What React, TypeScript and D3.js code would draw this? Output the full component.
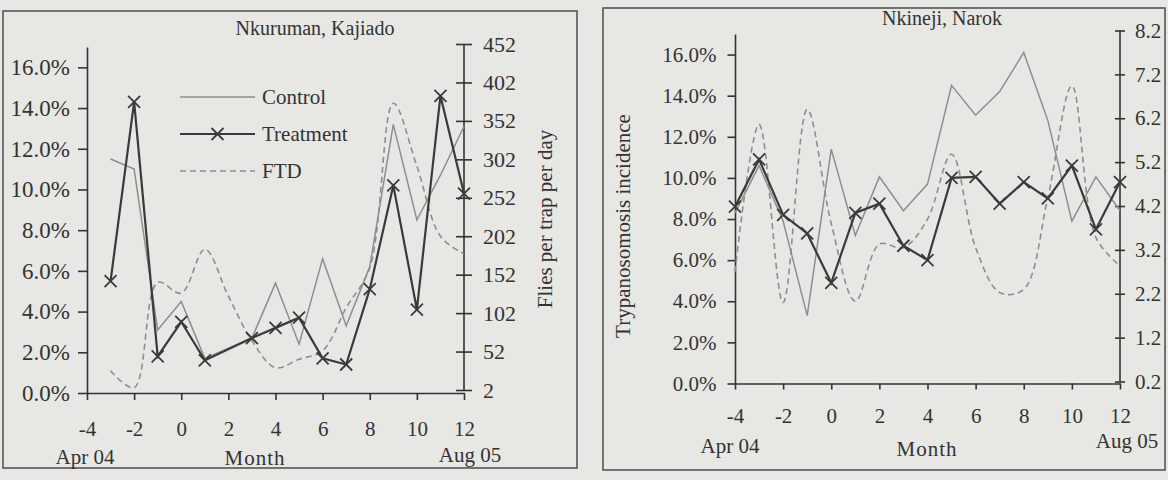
import React, { useEffect, useRef } from 'react'
import * as d3 from 'd3'

// Nkuruman, Kajiado (incidence in %, flies per trap per day)
const kajiadoMonths = [-3, -2, -1, 0, 1, 2, 3, 4, 5, 6, 7, 8, 9, 10, 11, 12]
const kajiadoControl = [11.5, 11.0, 3.1, 4.5, 1.7, 2.2, 2.7, 5.4, 2.4, 6.6, 3.3, 6.2, 13.2, 8.5, 10.7, 13.1]
const kajiadoFtd = [27, 5, 142, 128, 185, 124, 66, 31, 42, 53, 109, 161, 375, 293, 202, 179]
const kajiadoTreatMonths = [-3, -2, -1, 0, 1, 3, 4, 5, 6, 7, 8, 9, 10, 11, 12]
const kajiadoTreatment = [5.5, 14.3, 1.8, 3.5, 1.6, 2.7, 3.2, 3.7, 1.7, 1.4, 5.1, 10.2, 4.1, 14.6, 9.8]
const kajiadoFlyTicks = [2, 52, 102, 152, 202, 252, 302, 352, 402, 452]

// Nkineji, Narok
const narokMonths = [-4, -3, -2, -1, 0, 1, 2, 3, 4, 5, 6, 7, 8, 9, 10, 11, 12]
const narokControl = [8.3, 10.6, 7.9, 3.3, 11.4, 7.2, 10.05, 8.4, 9.7, 14.5, 13.05, 14.2, 16.1, 12.8, 7.9, 10.05, 8.4]
const narokFtd = [2.7, 6.06, 2.0, 6.4, 3.8, 2.03, 3.33, 3.25, 3.9, 5.38, 3.25, 2.23, 2.3, 4.39, 6.94, 3.48, 2.84]
const narokTreatment = [8.6, 10.9, 8.2, 7.3, 4.9, 8.3, 8.75, 6.7, 6.0, 10.0, 10.05, 8.75, 9.8, 9.0, 10.6, 7.5, 9.8]
const narokFlyTicks = [0.2, 1.2, 2.2, 3.2, 4.2, 5.2, 6.2, 7.2, 8.2]

const monthTicks = [-4, -2, 0, 2, 4, 6, 8, 10, 12]
const pctTicks = [0, 2, 4, 6, 8, 10, 12, 14, 16]
const legendNames = ['Control', 'Treatment', 'FTD']

const FONT = '"Liberation Serif", "DejaVu Serif", serif'
const INK = '#333'
const LIGHT = '#8e8e8e'
const DARK = '#3a3a3a'

const Panel = (props) => {
    const ref = useRef(null)
    const L = props.layout

    useEffect(() => {
        const g = d3.select(ref.current)
        g.selectAll('*').remove()

        const x = d3.scaleLinear().domain([-4, 12]).range([L.x0, L.x1])
        const y = d3.scaleLinear().domain([0, 17]).range([L.yb, L.yt])
        const y2 = d3.scaleLinear().domain(props.flyDomain).range([L.yb2, L.yt2])

        g.append('rect')
            .attr('x', L.fx).attr('y', L.fy).attr('width', L.fw).attr('height', L.fh)
            .attr('fill', 'none').attr('stroke', '#555').attr('stroke-width', 1.6)

        const styleAxis = (a, size = 21) => {
            a.attr('font-family', FONT).attr('font-size', size).attr('color', INK)
            a.select('.domain').attr('stroke-width', 1.6)
            a.selectAll('.tick line').attr('stroke-width', 1.6)
        }

        const left = g.append('g').attr('transform', `translate(${L.x0},0)`)
            .call(d3.axisLeft(y).tickValues(pctTicks).tickFormat(d => d.toFixed(1) + '%')
                .tickSize(L.ltick).tickPadding(L.lpad).tickSizeOuter(0))
        styleAxis(left, L.leftFont)

        // plain hyphen for negatives, like the original
        const bottom = g.append('g').attr('transform', `translate(0,${L.yb})`)
            .call(d3.axisBottom(x).tickValues(monthTicks).tickFormat(d => String(d))
                .tickSize(L.btick).tickPadding(L.bpad).tickSizeOuter(0))
        styleAxis(bottom)

        const right = g.append('g').attr('transform', `translate(${L.x1},0)`)
            .call(d3.axisRight(y2).tickValues(props.flyTicks).tickFormat(props.flyFmt)
                .tickSize(L.rtick).tickPadding(L.rpad).tickSizeOuter(0))
        styleAxis(right, L.rightFont)
        right.selectAll('.tick line').attr('x1', -L.rtick)
        right.select('.domain').attr('d', `M0,${L.yb2}V${L.yt2}`)

        // FTD (right axis), smoothed dashed line
        const ftdLine = d3.line()
            .x((d, i) => x(props.months[i]))
            .y(d => y2(d))
            .curve(d3.curveCatmullRom.alpha(0.5))
        g.append('path').datum(props.ftd)
            .attr('d', ftdLine).attr('fill', 'none')
            .attr('stroke', LIGHT).attr('stroke-width', 1.6).attr('stroke-dasharray', '6,4')

        const ctrlLine = d3.line()
            .x((d, i) => x(props.months[i]))
            .y(d => y(d))
        g.append('path').datum(props.control)
            .attr('d', ctrlLine).attr('fill', 'none')
            .attr('stroke', LIGHT).attr('stroke-width', 1.5)

        const treatLine = d3.line()
            .x((d, i) => x(props.treatMonths[i]))
            .y(d => y(d))
        g.append('path').datum(props.treatment)
            .attr('d', treatLine).attr('fill', 'none')
            .attr('stroke', DARK).attr('stroke-width', 2.2)

        const cross = 'M-6,-6L6,6M-6,6L6,-6'
        g.selectAll('path.mark').data(props.treatment).enter()
            .append('path').attr('class', 'mark')
            .attr('d', cross)
            .attr('transform', (d, i) => `translate(${x(props.treatMonths[i])},${y(d)})`)
            .attr('stroke', DARK).attr('stroke-width', 1.8).attr('fill', 'none')

        const txt = (tx, ty, s, anchor = 'middle', size = 21) =>
            g.append('text').attr('x', tx).attr('y', ty).attr('text-anchor', anchor)
                .attr('font-family', FONT).attr('font-size', size).attr('fill', INK).text(s)

        txt(L.titleX, L.titleY, props.title, 'middle', 20)
        txt(L.aprX, L.aprY, 'Apr 04')
        txt(L.monthX, L.monthY, 'Month').attr('letter-spacing', 1)
        txt(L.augX, L.augY, 'Aug 05')

        if (props.sideTitle) {
            g.append('text')
                .attr('transform', `translate(${L.sideX},${L.sideY}) rotate(-90)`)
                .attr('text-anchor', 'middle')
                .attr('font-family', FONT).attr('font-size', 21).attr('fill', INK)
                .text(props.sideTitle)
        }

        if (props.legend) {
            const lg = props.legend
            legendNames.forEach((name, i) => {
                const ly = lg.y + i * lg.step
                const l = g.append('line').attr('x1', lg.x0).attr('x2', lg.x1)
                    .attr('y1', ly).attr('y2', ly).attr('fill', 'none')
                if (name === 'Control') l.attr('stroke', LIGHT).attr('stroke-width', 1.5)
                if (name === 'Treatment') {
                    l.attr('stroke', DARK).attr('stroke-width', 2.2)
                    g.append('path').attr('d', cross)
                        .attr('transform', `translate(${(lg.x0 + lg.x1) / 2},${ly})`)
                        .attr('stroke', DARK).attr('stroke-width', 1.8)
                }
                if (name === 'FTD') l.attr('stroke', LIGHT).attr('stroke-width', 1.6).attr('stroke-dasharray', '6,4')
                txt(lg.x1 + 7, ly + 7, name, 'start')
            })
        }
    }, [])

    return <g ref={ref} />
}

const kajiadoLayout = {
    fx: 3, fy: 11, fw: 574, fh: 457,
    x0: 87, x1: 464, yb: 393, yt: 47, yb2: 390, yt2: 44,
    ltick: 9, lpad: 8, btick: 7, bpad: 21, rtick: 8, rpad: 11,
    leftFont: 23, rightFont: 22,
    titleX: 315, titleY: 35,
    aprX: 85, aprY: 464, monthX: 255, monthY: 465, augX: 470, augY: 462,
    sideX: 552, sideY: 219
}

const narokLayout = {
    fx: 603, fy: 8, fw: 562, fh: 462,
    x0: 735, x1: 1120, yb: 383.5, yt: 34, yb2: 381.5, yt2: 30.5,
    ltick: 7.5, lpad: 11, btick: 6, bpad: 19, rtick: 5, rpad: 10,
    leftFont: 21, rightFont: 21,
    titleX: 942, titleY: 25,
    aprX: 730, aprY: 453, monthX: 927, monthY: 456, augX: 1127, augY: 448,
    sideX: 630, sideY: 226
}

export default function App() {
    return (
        <svg width={1168} height={480}
            style={{ position: 'absolute', left: 0, top: 0, display: 'block', background: '#e7e7e4' }}>
            <Panel layout={kajiadoLayout} title="Nkuruman, Kajiado"
                months={kajiadoMonths} control={kajiadoControl} ftd={kajiadoFtd}
                treatMonths={kajiadoTreatMonths} treatment={kajiadoTreatment}
                flyDomain={[2, 452]} flyTicks={kajiadoFlyTicks} flyFmt={d3.format('d')}
                sideTitle="Flies per trap per day"
                legend={{ x0: 180, x1: 255, y: 97, step: 37 }} />
            <Panel layout={narokLayout} title="Nkineji, Narok"
                months={narokMonths} control={narokControl} ftd={narokFtd}
                treatMonths={narokMonths} treatment={narokTreatment}
                flyDomain={[0.2, 8.2]} flyTicks={narokFlyTicks} flyFmt={d3.format('.1f')}
                sideTitle="Trypanosomosis incidence" />
        </svg>
    )
}
